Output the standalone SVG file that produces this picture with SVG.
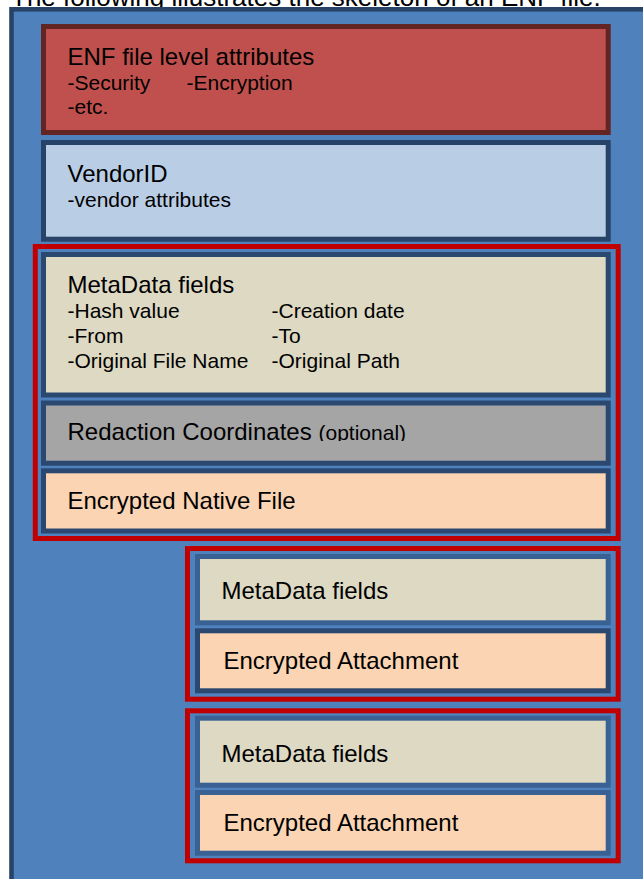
<svg xmlns="http://www.w3.org/2000/svg" width="643" height="879" viewBox="0 0 643 879">
  <defs>
    <clipPath id="optClip">
      <rect x="300" y="400" width="200" height="41"/>
    </clipPath>
  </defs>
  <style>
    text { font-family: "Liberation Sans", Arial, sans-serif; fill: #000; }
    .title { font-size: 26px; }
    .head { font-size: 24px; }
    .sub { font-size: 21px; }
    .frame { fill: #4F81BD; stroke: #274468; stroke-width: 4.6; }
    .enf { fill: #C0504D; stroke: #632523; stroke-width: 5; }
    .vendor { fill: #B9CDE5; stroke: #274468; stroke-width: 5; }
    .group { fill: none; stroke: #C00000; stroke-width: 5; }
    .meta { fill: #DDD9C3; stroke: #2A4870; stroke-width: 5; }
    .meta2 { fill: #DDD9C3; stroke: #3A6193; stroke-width: 5; }
    .redact { fill: #A5A5A5; stroke: #2A4870; stroke-width: 5; }
    .payload { fill: #FBD4B4; stroke: #2A4870; stroke-width: 5; }
    .payload2 { fill: #FBD4B4; stroke: #3A6193; stroke-width: 5; }
  </style>

  <rect width="643" height="879" fill="#FFFFFF"/>

  <!-- heading line above the file skeleton -->
  <text class="title" x="11" y="5.5">The following illustrates the skeleton of an ENF file.</text>

  <!-- outer file container -->
  <g id="enf-file">
    <rect class="frame" x="11.5" y="9.3" width="700" height="900"/>
  </g>

  <g id="file-attributes">
    <rect class="enf" x="43.5" y="26.5" width="564.7" height="106"/>
    <text class="head" x="67.5" y="65">ENF file level attributes</text>
    <text class="sub" x="67.5" y="89.5">-Security</text>
    <text class="sub" x="186.5" y="89.5">-Encryption</text>
    <text class="sub" x="67.5" y="113.5">-etc.</text>
  </g>

  <g id="vendor-id">
    <rect class="vendor" x="43.5" y="142.5" width="564.7" height="96.7"/>
    <text class="head" x="67.5" y="181.5">VendorID</text>
    <text class="sub" x="67.5" y="206.5">-vendor attributes</text>
  </g>

  <!-- native document section -->
  <g id="native-document">
    <rect class="group" x="35.3" y="246.5" width="582.9" height="292"/>
    <g id="native-metadata">
      <rect class="meta" x="43.5" y="254.5" width="564.7" height="140.5"/>
      <text class="head" x="67.5" y="292.5">MetaData fields</text>
      <text class="sub" x="67.5" y="318">-Hash value</text>
      <text class="sub" x="271.5" y="318">-Creation date</text>
      <text class="sub" x="67.5" y="342.5">-From</text>
      <text class="sub" x="271.5" y="342.5">-To</text>
      <text class="sub" x="67.5" y="367.5">-Original File Name</text>
      <text class="sub" x="271.5" y="367.5">-Original Path</text>
    </g>
    <g id="redaction-coordinates">
      <rect class="redact" x="43.5" y="403" width="564.7" height="60.2"/>
      <text class="head" x="67.5" y="440">Redaction Coordinates</text>
      <text class="sub" x="318.5" y="440" clip-path="url(#optClip)">(optional)</text>
    </g>
    <g id="encrypted-native-file">
      <rect class="payload" x="43.5" y="470.8" width="564.7" height="60.2"/>
      <text class="head" x="67.5" y="508.5">Encrypted Native File</text>
    </g>
  </g>

  <!-- first attachment -->
  <g id="attachment-1">
    <rect class="group" x="187.5" y="548.5" width="430.7" height="150.7"/>
    <g id="attachment-1-metadata">
      <rect class="meta2" x="197.5" y="556.5" width="410.7" height="66.3"/>
      <text class="head" x="221.5" y="599.3">MetaData fields</text>
    </g>
    <g id="attachment-1-payload">
      <rect class="payload" x="197.5" y="630.8" width="410.7" height="60"/>
      <text class="head" x="223.5" y="669">Encrypted Attachment</text>
    </g>
  </g>

  <!-- second attachment -->
  <g id="attachment-2">
    <rect class="group" x="187.5" y="710.8" width="430.7" height="150"/>
    <g id="attachment-2-metadata">
      <rect class="meta2" x="197.5" y="718.2" width="410.7" height="67"/>
      <text class="head" x="221.5" y="761.7">MetaData fields</text>
    </g>
    <g id="attachment-2-payload">
      <rect class="payload2" x="197.5" y="792.5" width="410.7" height="60.7"/>
      <text class="head" x="223.5" y="830.7">Encrypted Attachment</text>
    </g>
  </g>
</svg>
